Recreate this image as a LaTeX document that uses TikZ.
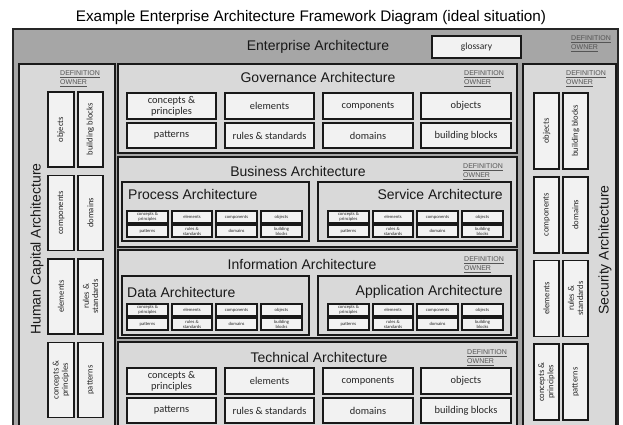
\documentclass[tikz,border=0pt]{standalone}
\usepackage{fontspec}
\setmainfont{Liberation Sans}
\newfontfamily\carl{Carlito}
\definecolor{entgray}{HTML}{A6A6A6}
\definecolor{panelgray}{HTML}{D9D9D9}
\definecolor{boxwhite}{HTML}{F2F2F2}
\definecolor{defgray}{HTML}{555555}
\newcommand\bx[7]{\node[#6, minimum width={((#4)-(#2))*1pt}, minimum height={((#5)-(#3))*1pt}] (#1) at ({((#2)+(#4))/2},{((#3)+(#5))/2}) {#7};}
\newcommand\biggrid[5]{%
 \bx{#1a}{127}{#2}{216}{#3}{cell}{concepts \&\\principles}
 \bx{#1b}{225}{#2}{314}{#3}{cell}{elements}
 \bx{#1c}{323}{#2}{413}{#3}{cell}{components}
 \bx{#1d}{421}{#2}{511}{#3}{cell}{objects}
 \bx{#1e}{127}{#4}{216}{#5}{cell}{patterns}
 \bx{#1f}{225}{#4}{314}{#5}{cell}{rules \& standards}
 \bx{#1g}{323}{#4}{413}{#5}{cell}{domains}
 \bx{#1h}{421}{#4}{511}{#5}{cell}{building blocks}}
\newcommand\tinygrid[6]{%
 \bx{#1a}{127+#2}{#3}{168+#2}{#4}{tinycell}{concepts \&\\principles}
 \bx{#1b}{172+#2}{#3}{212+#2}{#4}{tinycell}{elements}
 \bx{#1c}{216+#2}{#3}{257+#2}{#4}{tinycell}{components}
 \bx{#1d}{261+#2}{#3}{302+#2}{#4}{tinycell}{objects}
 \bx{#1e}{127+#2}{#5}{168+#2}{#6}{tinycell}{patterns}
 \bx{#1f}{172+#2}{#5}{212+#2}{#6}{tinycell}{rules \&\\standards}
 \bx{#1g}{216+#2}{#5}{257+#2}{#6}{tinycell}{domains}
 \bx{#1h}{261+#2}{#5}{302+#2}{#6}{tinycell}{building\\blocks}}
\newcommand\vbx[6]{\bx{#1}{#2}{#3}{#4}{#5}{vcell}{}\node[vtext] (#1t) at (#1) {#6};}
\newcommand\sidegrid[9]{%
 \vbx{#1a}{#2}{#6}{#3}{#7}{objects}
 \vbx{#1b}{#4}{#6}{#5}{#7}{building blocks}
 \vbx{#1c}{#2}{#6+#8}{#3}{#7+#8}{components}
 \vbx{#1d}{#4}{#6+#8}{#5}{#7+#8}{domains}
 \vbx{#1e}{#2}{#6+2*#8}{#3}{#7+2*#8}{elements}
 \vbx{#1f}{#4}{#6+2*#8}{#5}{#7+2*#8}{rules \&\\standards}
 \vbx{#1g}{#2}{#6+3*#8}{#3}{#7+3*#8}{concepts \&\\principles}
 \vbx{#1h}{#4}{#6+3*#8}{#5}{#7+3*#8}{patterns}}
\newcommand\defown[3]{\node[defown] (#1) at (#2,#3) {\underline{DEFINITION}\\\underline{OWNER}};}
\begin{document}
\begin{tikzpicture}[x=1pt,y=-1pt,
  entbox/.style={draw=black!85, line width=1.6pt, fill=entgray, inner sep=0pt},
  panel/.style={draw=black!90, line width=2pt, fill=panelgray, inner sep=0pt},
  subpanel/.style={draw=black!90, line width=2.1pt, fill=panelgray, inner sep=0pt},
  cell/.style={draw=black!90, line width=1.6pt, fill=boxwhite, inner sep=0pt, align=center,
    text=black!85, font=\carl\fontsize{10.4}{11.2}\selectfont},
  tinycell/.style={draw=black!90, line width=1.2pt, fill=boxwhite, inner sep=0pt, align=center,
    text=black!85, font=\carl\fontsize{4.6}{4.9}\selectfont},
  vcell/.style={draw=black!90, line width=1.6pt, fill=boxwhite, inner sep=0pt},
  vtext/.style={rotate=90, align=center, inner sep=0pt, text=black!85, font=\carl\fontsize{8.6}{9.4}\selectfont},
  ttl/.style={inner sep=0pt, text=black!90, font=\fontsize{14}{16}\selectfont},
  defown/.style={anchor=north west, align=left, inner sep=0pt, text=defgray, font=\fontsize{7}{9.4}\selectfont}]
\useasboundingbox (0,0) rectangle (623,425);
\fill[white] (0,0) rectangle (623,425);
\clip (0,0) rectangle (623,425);
% title
\node[inner sep=0pt, font=\fontsize{15.3}{17}\selectfont] (title) at (311,18) {Example Enterprise Architecture Framework Diagram (ideal situation)};
% enterprise
\bx{ent}{13}{29}{618}{445}{entbox}{}
\node[ttl] (entt) at (318,47) {Enterprise Architecture};
\bx{gloss}{432}{36}{521}{58}{cell, font=\carl\fontsize{9.5}{10}\selectfont}{glossary}
\defown{entd}{571}{35.5}
% human capital
\bx{hc}{19}{64}{115}{445}{panel}{}
\node[ttl, rotate=90] (hct) at (37,249) {Human Capital Architecture};
\defown{hcd}{60}{70.5}
\sidegrid{hcc}{48}{74}{78}{103}{92}{167}{83.5}{}
% security
\bx{sec}{523}{64}{616}{445}{panel}{}
\node[ttl, rotate=90] (sect) at (605,250) {Security Architecture};
\defown{secd}{566}{70.5}
\sidegrid{scc}{534}{559}{563}{588}{93}{169}{83.7}{}
% governance
\bx{gov}{118}{64}{517}{153}{panel}{}
\node[ttl] (govt) at (318,77) {Governance Architecture};
\defown{govd}{464}{70.5}
\biggrid{gc}{93}{119}{123}{148}
% business
\bx{bus}{118}{157}{517}{247}{panel}{}
\node[ttl] (bust) at (298,171) {Business Architecture};
\defown{busd}{463}{163.5}
\bx{proc}{122}{182}{309}{241}{subpanel}{}
\node[ttl, anchor=west] (proct) at (128,194) {Process Architecture};
\bx{serv}{318}{182}{511}{241}{subpanel}{}
\node[ttl, anchor=east] (servt) at (503,194) {Service Architecture};
\tinygrid{pc}{0}{211}{223}{225}{237}
\tinygrid{sc}{201}{211}{223}{225}{237}
% information
\bx{inf}{118}{250}{517}{338}{panel}{}
\node[ttl] (inft) at (302,264) {Information Architecture};
\defown{infd}{464}{256.5}
\bx{data}{122}{276}{309}{335}{subpanel}{}
\node[ttl, anchor=west] (datat) at (127,292) {Data Architecture};
\bx{app}{318}{276}{511}{335}{subpanel}{}
\node[ttl, anchor=east] (appt) at (503,292) {Application Architecture};
\tinygrid{dc}{0}{304}{316}{318}{330}
\tinygrid{ac}{201}{304}{316}{318}{330}
% technical
\bx{tech}{118}{342}{517}{445}{panel}{}
\node[ttl] (techt) at (319,357) {Technical Architecture};
\defown{techd}{467}{349.5}
\biggrid{tc}{368}{394}{398}{423}
\end{tikzpicture}
\end{document}
